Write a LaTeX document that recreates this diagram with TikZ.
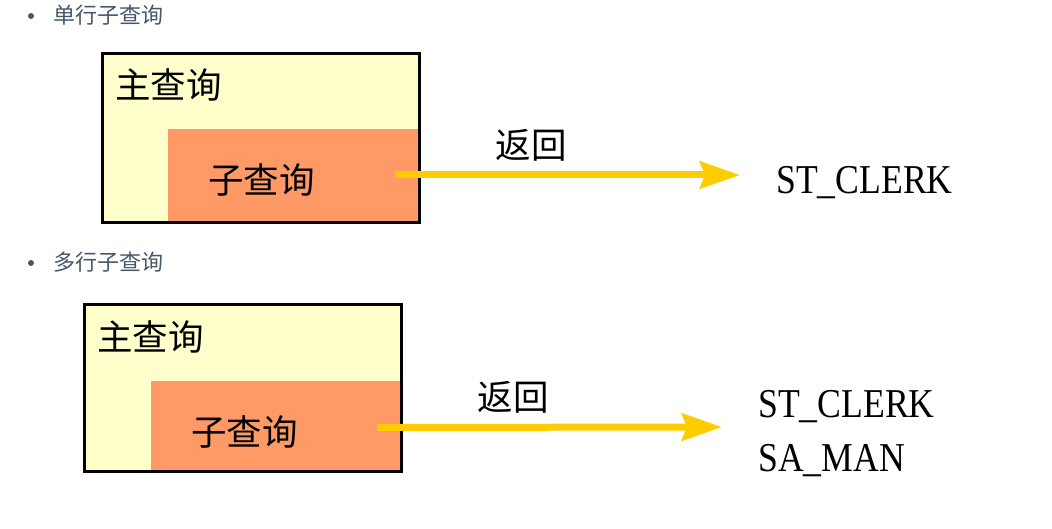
\documentclass[tikz,border=0pt]{standalone}
\usepackage{fontspec}
\setmainfont{Liberation Serif}
\newfontfamily\cjk{Noto Sans CJK SC}
\newfontfamily\resultfont[FakeStretch=0.87]{Liberation Serif}
\usepackage{xcolor}
\usetikzlibrary{arrows.meta}
\definecolor{mainYellow}{HTML}{FFFFCC}
\definecolor{subOrange}{HTML}{FF9966}
\definecolor{arrowGold}{HTML}{FFCC00}
\definecolor{bulletGray}{HTML}{48566A}
\tikzset{%
  base/.style = {rectangle, inner sep=0pt, outer sep=0pt},
  mainBox/.style = {base, fill=mainYellow, draw=black, line width=3pt,
      minimum width=317pt, anchor=north west},
  subBox/.style = {base, fill=subOrange, anchor=south east},
  cjkLabel/.style = {inner sep=0pt, font=\cjk\fontsize{35.5}{35.5}\selectfont},
  resultLabel/.style = {inner sep=0pt, anchor=west,
      font=\resultfont\fontsize{41}{41}\selectfont},
  bulletLabel/.style = {inner sep=0pt, anchor=west, text=bulletGray,
      font=\cjk\fontsize{22}{22}\selectfont},
  ret/.style = {draw=arrowGold, line width=7pt,
      -{Stealth[length=40pt, width=27pt, inset=5pt]}},
}
\begin{document}
\begin{tikzpicture}[x=1pt, y=-1pt]
  \useasboundingbox (0,0) rectangle (1052,529);
  % Specification of nodes (single-row subquery)
  \fill[bulletGray] (31,16) circle (3pt);
  \node (bullet1)    [bulletLabel] at (53,15) {单行子查询};
  \node (mainBox1)   [mainBox, minimum height=169pt] at (102.5,53.5) {};
  \node (subBox1)    [subBox, minimum width=250pt, minimum height=92pt]
                     at ([xshift=-1.5pt,yshift=1.5pt]mainBox1.south east) {};
  \draw[line width=3pt] (mainBox1.north west) rectangle (mainBox1.south east);
  \node (mainLabel1) [cjkLabel, anchor=west] at (115,85) {主查询};
  \node (subLabel1)  [cjkLabel, anchor=west] at (208,180) {子查询};
  \node (retLabel1)  [cjkLabel] at (531,145) {返回};
  \node (result1)    [resultLabel] at (776,183) {ST\_CLERK};
  \coordinate (retEnd1) at (740,175);
  % Specification of nodes (multi-row subquery)
  \fill[bulletGray] (31,263) circle (3pt);
  \node (bullet2)    [bulletLabel] at (53,262) {多行子查询};
  \node (mainBox2)   [mainBox, minimum height=167pt] at (84.5,304.5) {};
  \node (subBox2)    [subBox, minimum width=249pt, minimum height=89pt]
                     at ([xshift=-1.5pt,yshift=1.5pt]mainBox2.south east) {};
  \draw[line width=3pt] (mainBox2.north west) rectangle (mainBox2.south east);
  \node (mainLabel2) [cjkLabel, anchor=west] at (97,337) {主查询};
  \node (subLabel2)  [cjkLabel, anchor=west] at (191,432) {子查询};
  \node (retLabel2)  [cjkLabel] at (513,397) {返回};
  \node (result2a)   [resultLabel] at (758,407) {ST\_CLERK};
  \node (result2b)   [resultLabel] at (758,461) {SA\_MAN};
  \coordinate (retEnd2) at (722,427);
  % Specification of the return arrows
  \draw[ret] ([xshift=-23pt]subBox1.east) -- (retEnd1);
  \draw[ret] ([xshift=-23pt,yshift=-2pt]subBox2.east) -- (retEnd2);
\end{tikzpicture}
\end{document}
